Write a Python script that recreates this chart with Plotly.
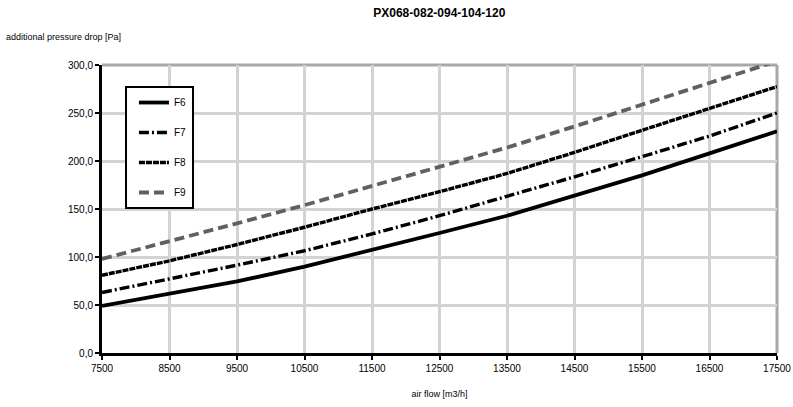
import plotly.graph_objects as go

air_flow = [7500, 8500, 9500, 10500, 11500, 12500, 13500, 14500, 15500, 16500, 17500]
f6 = [49, 61.5, 74.5, 90, 107, 125, 143, 163.5, 185, 208, 231]
f7 = [63, 77, 91.5, 106.5, 124, 143, 163, 183.5, 204.5, 226, 250]
f8 = [81, 96, 113, 131, 150, 168, 187, 209, 232, 255, 277.5]
f9 = [98, 116, 135, 154, 174, 194, 214, 236, 259, 282, 304]
x_ticks = [7500, 8500, 9500, 10500, 11500, 12500, 13500, 14500, 15500, 16500, 17500]
y_ticks = [0, 50, 100, 150, 200, 250, 300]
y_ticktext = ["0,0", "50,0", "100,0", "150,0", "200,0", "250,0", "300,0"]

series = [
    ("F6", f6, "black", "solid", 3.8),
    ("F7", f7, "black", "10px,3px,2px,3px", 3.4),
    ("F8", f8, "black", "6px,1px", 3.4),
    ("F9", f9, "#606060", "10px,5px", 3.8),
]

fig = go.Figure()
for i, (name, vals, color, dash, w) in enumerate(series):
    fig.add_trace(go.Scatter(
        x=air_flow, y=vals, name=name, mode="lines",
        line=dict(color=color, dash=dash, width=w),
        legendgroup=f"g{i}",
    ))

font = "Liberation Sans, Arial, sans-serif"
fig.update_layout(
    width=793, height=407,
    margin=dict(l=102, r=16, t=65, b=54, autoexpand=False),
    paper_bgcolor="white", plot_bgcolor="white",
    font=dict(family=font, size=10, color="black"),
    title=dict(text="<b>PX068-082-094-104-120</b>", x=0.554, xanchor="center",
               y=0.968, yanchor="middle", font=dict(size=12, family=font)),
    showlegend=True,
    legend=dict(x=0.034, y=0.927, xanchor="left", yanchor="top",
                bgcolor="white", bordercolor="black", borderwidth=2,
                traceorder="grouped", tracegroupgap=11, itemwidth=30,
                indentation=7, entrywidth=64, entrywidthmode="pixels",
                font=dict(size=10, family=font)),
    xaxis=dict(range=[7500, 17500], tickvals=x_ticks, ticktext=[str(v) for v in x_ticks],
               showgrid=True, gridcolor="#d3d3d3", gridwidth=3,
               showline=True, linecolor="black", linewidth=3,
               ticks="outside", ticklen=4, tickwidth=2, tickcolor="black",
               zeroline=False, automargin=False,
               title=dict(text="air flow [m3/h]", font=dict(size=9), standoff=18)),
    yaxis=dict(range=[0, 300], tickvals=y_ticks, ticktext=y_ticktext,
               showgrid=True, gridcolor="#d3d3d3", gridwidth=3,
               showline=True, linecolor="black", linewidth=3,
               ticks="outside", ticklen=4, tickwidth=2, tickcolor="black",
               zeroline=False, automargin=False),
    annotations=[dict(text="additional pressure drop [Pa]", xref="paper", yref="paper",
                      x=-0.145, y=1.097, xanchor="left", yanchor="middle",
                      showarrow=False, font=dict(size=9, family=font))],
    shapes=[
        dict(type="line", xref="paper", yref="paper", x0=0, x1=1, y0=1, y1=1,
             line=dict(color="#a8a8a8", width=3), layer="below"),
        dict(type="line", xref="paper", yref="paper", x0=1, x1=1, y0=0, y1=1,
             line=dict(color="#a8a8a8", width=3), layer="below"),
    ],
)
fig.write_html("out.html")
